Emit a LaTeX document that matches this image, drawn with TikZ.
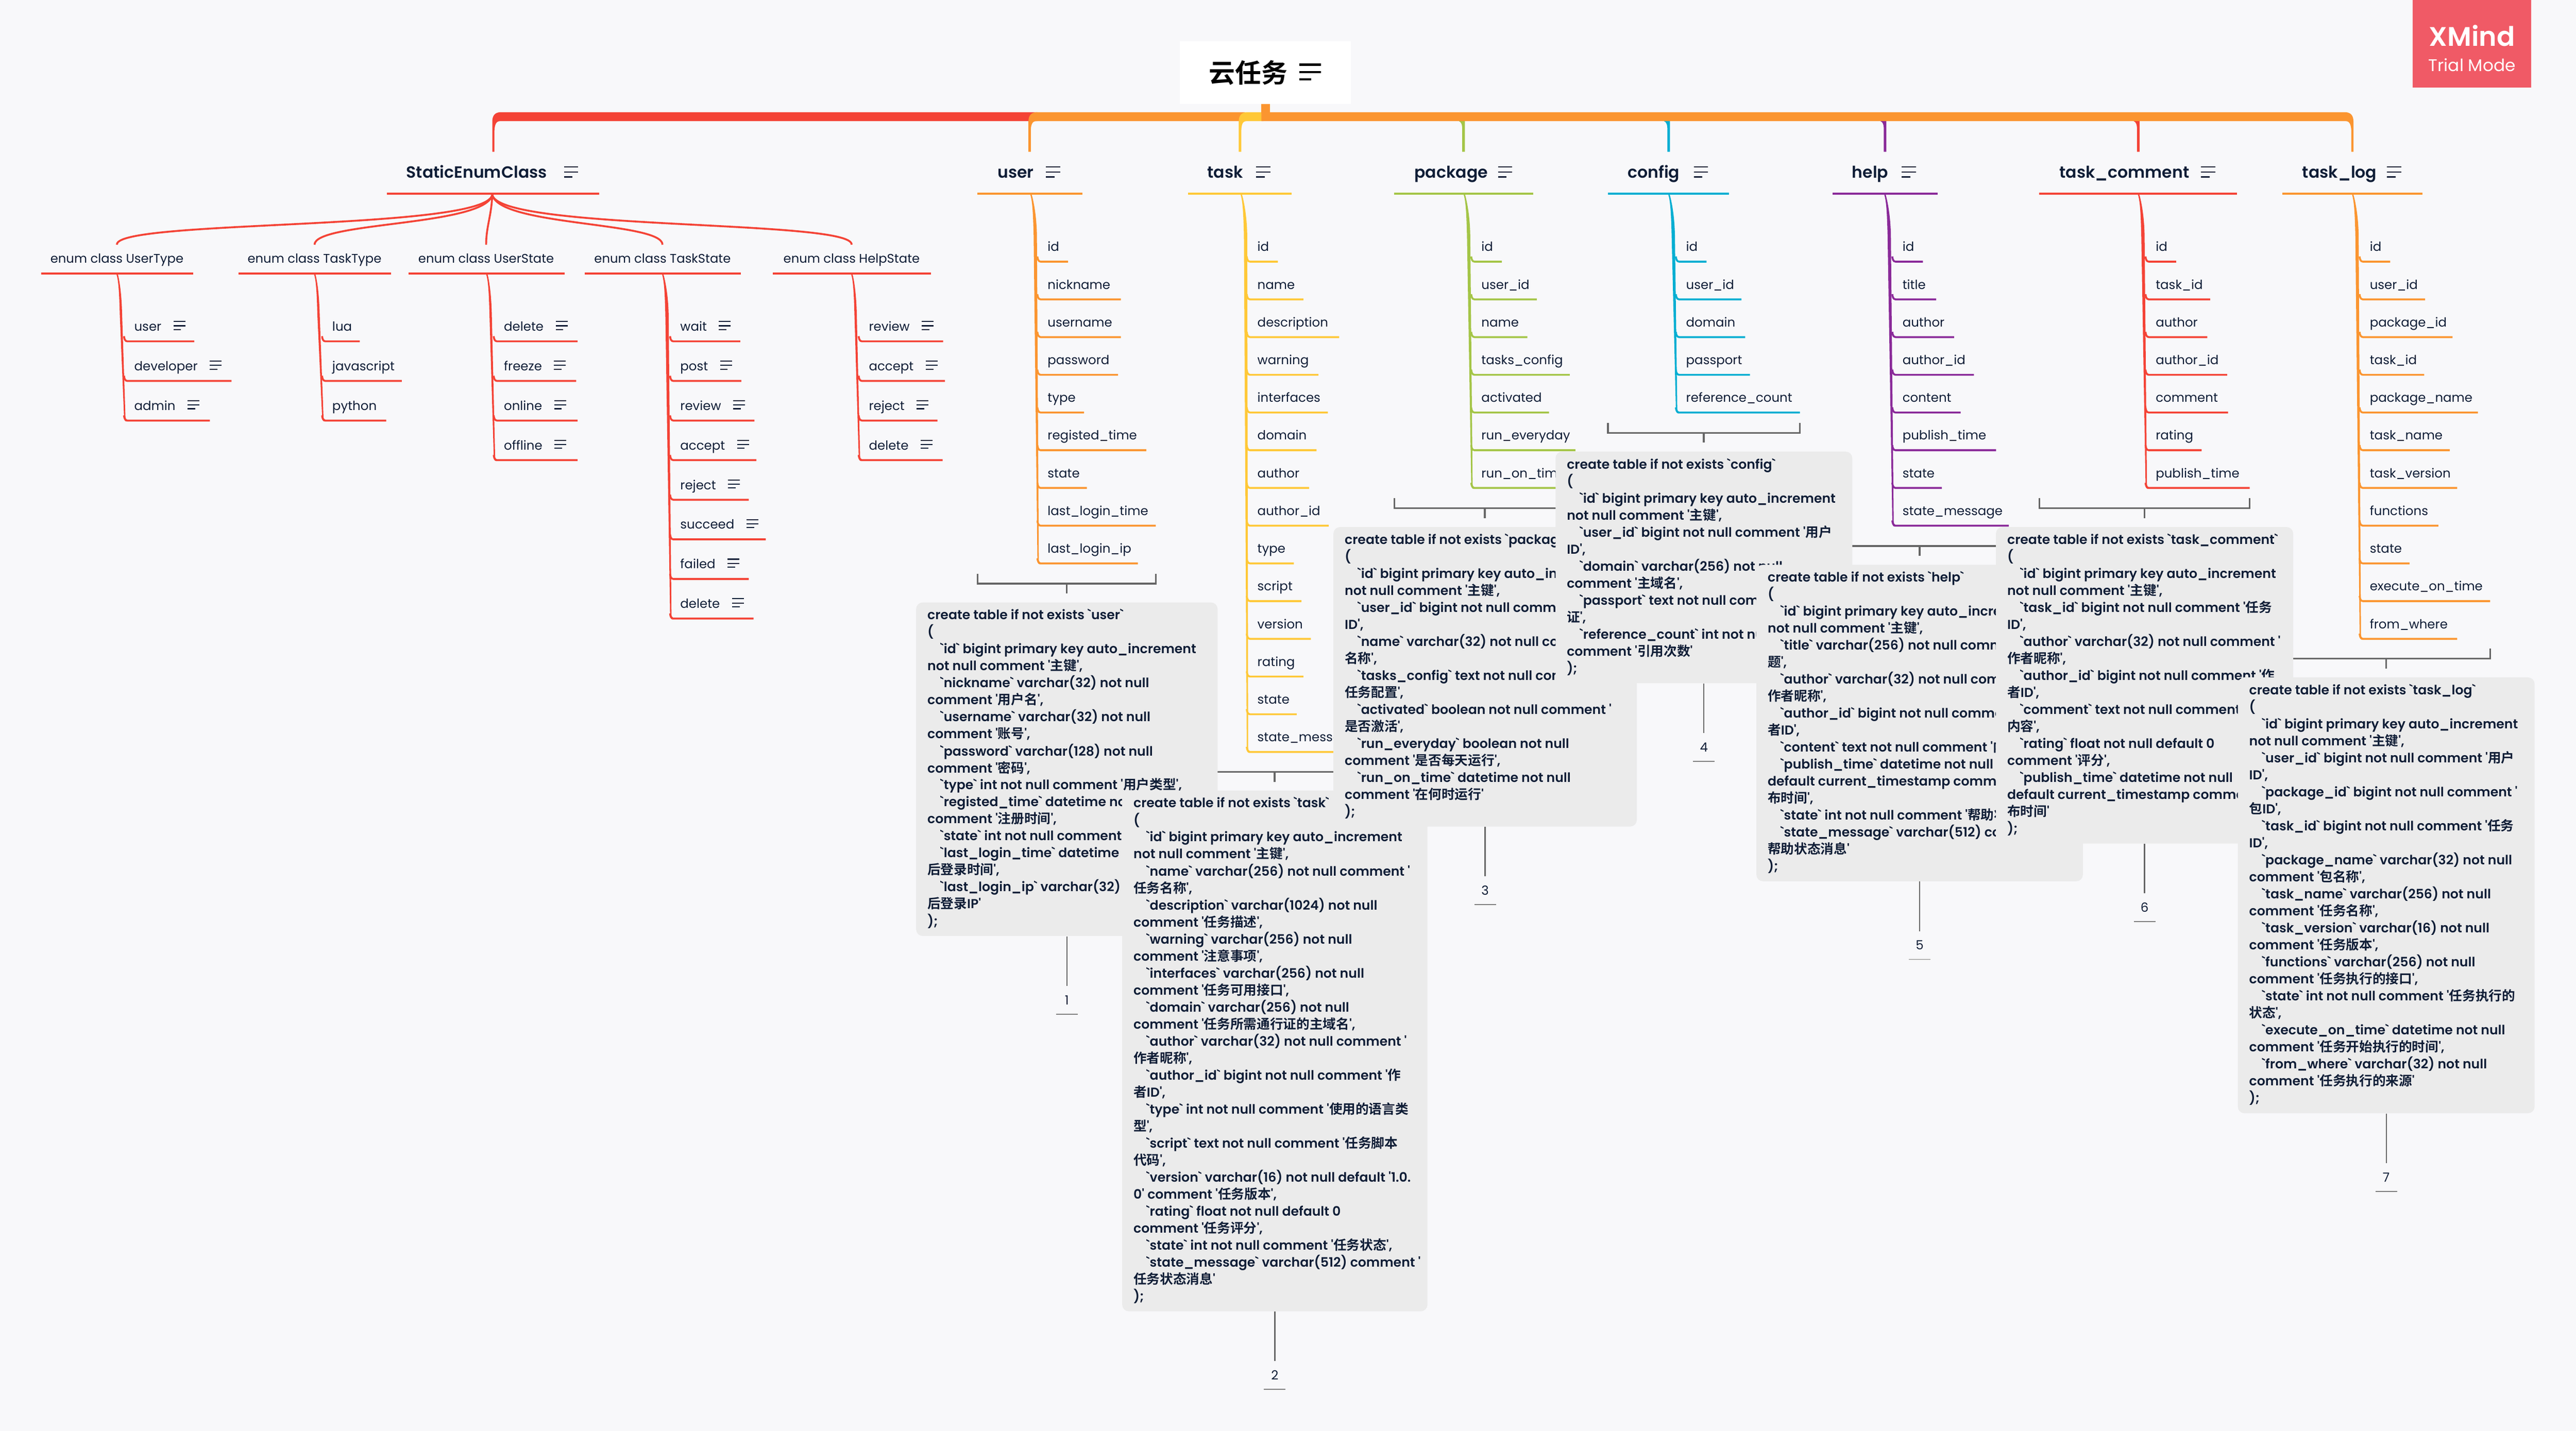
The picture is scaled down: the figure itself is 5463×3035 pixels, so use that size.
\documentclass[tikz,border=0pt]{standalone}
\usepackage{fontspec}
\setmainfont{Poppins}
\newfontfamily\leaff{Poppins}
\newfontfamily\headf{Poppins}[UprightFont=* SemiBold]
\newfontfamily\notef{Poppins}[UprightFont=* SemiBold]
\newfontfamily\xmf{Poppins}[UprightFont=* SemiBold]
\newfontfamily\zhf{Noto Sans CJK SC}[UprightFont=* Medium,BoldFont=* Bold]
\definecolor{bgc}{HTML}{F8F8FA}
\definecolor{ink}{HTML}{0F1D36}
\definecolor{notec}{HTML}{EBEBEB}
\definecolor{graye}{HTML}{666666}
\definecolor{cred}{HTML}{F44336}
\definecolor{corange}{HTML}{FB9530}
\definecolor{cyellow}{HTML}{FFC837}
\definecolor{cgreen}{HTML}{A4C547}
\definecolor{ccyan}{HTML}{03AED2}
\definecolor{cpurple}{HTML}{8A2A99}
\definecolor{xmc}{HTML}{F05A66}
\newcommand\Z[1]{{\zhf\bfseries\fontsize{7.97pt}{10.24pt}\selectfont #1}}
\newcommand\I{\hspace*{7.7pt}}
\tikzset{
  leaftext/.style={inner sep=0pt,text=ink,font=\leaff\fontsize{7.6pt}{10pt}\selectfont},
  headtext/.style={inner sep=0pt,text=ink,font=\headf\fontsize{9.8pt}{12pt}\selectfont},
  enumtext/.style={inner sep=0pt,text=ink,font=\leaff\fontsize{7.55pt}{10pt}\selectfont},
  notebox/.style={fill=notec,rounded corners=4pt,inner sep=0pt,text=ink,font=\notef\fontsize{7.82pt}{10.24pt}\selectfont},
  numtext/.style={inner sep=0pt,text=ink,font=\leaff\fontsize{7.6pt}{10pt}\selectfont},
  branch/.style={line width=1.14pt,line cap=butt},
  iconln/.style={line width=0.65pt,ink},
  headicon/.style={line width=0.85pt,ink},
  brack/.style={graye,line width=1.05pt},
  stem/.style={graye,line width=0.7pt},
  numline/.style={graye!85,line width=0.6pt},
}
\newcount\rowk
% name, colour, x0, underline left, text left, first underline y, step, top y
\newcommand\setcol[8]{\def\Nm{#1}\def\Cc{#2}\def\Xo{#3}\def\Ulx{#4}\def\Tx{#5}\def\Yo{#6}\def\Step{#7}\def\Yt{#8}\global\rowk=0 }
\newcommand\lf[2]{%
  \global\advance\rowk by 1
  \edef\yy{\the\numexpr\Yo+\Step*(\rowk-1)\relax}%
  \edef\kk{\the\rowk}%
  \node[leaftext,anchor=base west] (\Nm-\kk) at (\Tx,\yy-22) {#1};
  \coordinate (\Nm-\kk-a) at (\Ulx-3,\yy-11);
  \coordinate (\Nm-\kk-b) at (\Ulx+4,\yy);
  \coordinate (\Nm-\kk-c) at (#2,\yy);
  \draw[branch,\Cc] (\Nm-\kk-a) to[out=-85,in=180] (\Nm-\kk-b) -- (\Nm-\kk-c);
}
\newcommand\lfi[2]{%
  \lf{#1}{#2}
  \draw[iconln] (\Nm-\kk.base east) ++(25,-20) -- ++(25,0)
    (\Nm-\kk.base east) ++(25,-11) -- ++(25,0)
    (\Nm-\kk.base east) ++(25,-3) -- ++(16,0);
}
% #1 maximum trunk width
\newcommand\trunk[1]{%
  \fill[\Cc] (\Xo-1,\Yt) .. controls (\Xo+4,\Yt+15) and (\Xo+5,\Yt+50) .. (\Xo+6,\Yt+85)
    -- (\Ulx-3,\yy-9) .. controls (\Ulx-3,\yy-2) and (\Ulx-2,\yy+2) .. (\Ulx+3,\yy+2)
    -- (\Ulx+3,\yy-2) .. controls (\Ulx+1,\yy-3) and (\Ulx,\yy-5) .. (\Ulx,\yy-10)
    -- (\Xo+6+#1,\Yt+85) .. controls (\Xo+5+#1,\Yt+40) and (\Xo+5,\Yt+10) .. (\Xo+2,\Yt) -- cycle;
}
% name text left underline-left underline-right icon-left colour
\newcommand\mainhead[7]{%
  \node[headtext,anchor=base west] (#1) at (#3,377) {#2};
  \coordinate (#1-l) at (#4,411);
  \coordinate (#1-r) at (#5,411);
  \draw[branch,#7] (#1-l) -- (#1-r);
  \coordinate (#1-i) at (#6,377);
  \draw[headicon] (#1-i) ++(0,-23) -- ++(30,0) (#1-i) ++(0,-12) -- ++(30,0) (#1-i) ++(0,-2) -- ++(18,0);
}
% name text center-x underline-left underline-right
\newcommand\enumhead[5]{%
  \node[enumtext,anchor=base] (#1) at (#3,558) {#2};
  \coordinate (#1-l) at (#4,580);
  \coordinate (#1-r) at (#5,580);
  \draw[branch,cred] (#1-l) -- (#1-r);
}
% name xl xr cx top
\newcommand\brk[5]{%
  \coordinate (#1-bl) at (#2,#5-40);
  \coordinate (#1-br) at (#3,#5-40);
  \coordinate (#1-bc) at (#4,#5-40);
  \coordinate (#1-bs) at (#4,#5-19);
  \draw[brack] (#2,#5-61) -- (#1-bl) -- (#1-br) -- (#3,#5-61);
  \draw[brack] (#1-bc) -- (#1-bs);
}
% name xl xr ytop ybot body
\newcommand\notenode[6]{%
  \pgfmathsetmacro\tw{(#3-#2-48)*0.28453}%
  \node[notebox,minimum width={(#3-#2)*0.28453pt},minimum height={(#5-#4)*0.28453pt}]
    (#1) at ({(#2+#3)/2},{(#4+#5)/2}) {\makebox[\tw pt][l]{\raisebox{-0.8pt}{\begin{tabular}{@{}l@{}}#6\end{tabular}}}};
}
% note-name label
\newcommand\numnode[2]{%
  \path (#1.south) ++(0,135) coordinate (#1-numc);
  \node[numtext] (#1-num) at (#1-numc) {#2};
  \draw[stem] (#1.south) -- ++(0,105) coordinate (#1-end);
  \draw[numline] ([shift={(-23,30)}]#1-numc) coordinate (#1-ul) -- ++(46,0) coordinate (#1-ur);
}
\begin{document}
\begin{tikzpicture}[x=0.01cm,y=-0.01cm]
\fill[bgc] (0,0) rectangle (5463,3035);
\useasboundingbox (0,0) rectangle (5463,3035);

% ---------- main bar ----------
\fill[cred] (1044,322) -- (1044,258) .. controls (1044,245) and (1050,238) .. (1062,238) -- (2200,238) -- (2200,257) -- (1060,257) .. controls (1052,257) and (1049,265) .. (1048.5,278) -- (1048.5,322) -- cycle;
\fill[corange] (2181,322) -- (2181,258) .. controls (2181,245) and (2187,238) .. (2199,238) -- (2640,238) -- (2640,257) -- (2197,257) .. controls (2189,257) and (2186,265) .. (2186,278) -- (2186,322) -- cycle;
\fill[cyellow] (2627,322) -- (2627,258) .. controls (2627,245) and (2633,238) .. (2645,238) -- (2680,238) -- (2680,257) -- (2643,257) .. controls (2635,257) and (2632.5,265) .. (2632.5,278) -- (2632.5,322) -- cycle;
\foreach \xx/\cc in {3101/cgreen,3536/ccyan,3995/cpurple,4532/cred}{
  \fill[\cc] (\xx-7,257) .. controls (\xx-2,259) and (\xx,264) .. (\xx,275) -- (\xx,322) -- (\xx+5.5,322) -- (\xx+5.5,257) -- cycle;
}
\fill[corange] (4991,322) -- (4991,258) .. controls (4991,245) and (4985,238) .. (4973,238) -- (2675,238) -- (2675,257) -- (4975,257) .. controls (4983,257) and (4986,265) .. (4986.5,278) -- (4986.5,322) -- cycle;
\fill[corange] (2675,221) rectangle (2693,240);

% ---------- root ----------
\node[fill=white,minimum width={363*0.28453pt},minimum height={134*0.28453pt},inner sep=0pt,font=\zhf\bfseries\fontsize{15.8pt}{18pt}\selectfont,text=black] (root) at (2683.5,154) {云任务\kern20.5pt};
\coordinate (root-i) at (2755,154);
\draw[black,line width=1.4pt] (root-i) ++(0,-17) -- ++(46,0) (root-i) ++(0,-1) -- ++(46,0) (root-i) ++(0,14) -- ++(26,0);

% ---------- XMind badge ----------
\node[fill=xmc,minimum width={251*0.28453pt},minimum height={186*0.28453pt},inner sep=0pt,text=white,align=center] (xm) at (5242.5,93) {\rule{0pt}{18pt}{\xmf\fontsize{16.2pt}{18pt}\selectfont XMind}\\[3pt]{\leaff\fontsize{10.2pt}{12pt}\selectfont Trial Mode}};

% ---------- StaticEnumClass ----------
\mainhead{sec}{StaticEnumClass}{861}{820}{1271}{1196}{cred}
\enumhead{eu}{enum class UserType}{248}{87}{410}
\enumhead{et}{enum class TaskType}{667}{506}{829}
\enumhead{es}{enum class UserState}{1031}{866}{1198}
\enumhead{ek}{enum class TaskState}{1405}{1240}{1571}
\enumhead{eh}{enum class HelpState}{1806}{1639}{1974}
\coordinate (sec-b) at (1044,413);
\coordinate (eu-t) at (248,519);
\coordinate (et-t) at (667,519);
\coordinate (es-t) at (1031,519);
\coordinate (ek-t) at (1405,519);
\coordinate (eh-t) at (1806,519);
\draw[branch,cred] (sec-b) .. controls (1030,490) and (242,465) .. (eu-t);
\draw[branch,cred] (sec-b) .. controls (1030,480) and (667,470) .. (et-t);
\draw[branch,cred] (sec-b) .. controls (1042,460) and (1031,480) .. (es-t);
\draw[branch,cred] (sec-b) .. controls (1058,480) and (1405,470) .. (ek-t);
\draw[branch,cred] (sec-b) .. controls (1058,490) and (1812,465) .. (eh-t);

\setcol{usertype}{cred}{248}{266}{284}{724}{84}{582}
\lfi{user}{412}\lfi{developer}{491}\lfi{admin}{445}\trunk{5}
\setcol{tasktype}{cred}{667}{686}{704}{724}{84}{582}
\lf{lua}{763}\lf{javascript}{852}\lf{python}{819}\trunk{5}
\setcol{userstate}{cred}{1032}{1050}{1068}{724}{84}{582}
\lfi{delete}{1225}\lfi{freeze}{1222}\lfi{online}{1225}\lfi{offline}{1225}\trunk{5}
\setcol{taskstate}{cred}{1405}{1424}{1442}{724}{84}{582}
\lfi{wait}{1570}\lfi{post}{1572}\lfi{review}{1600}\lfi{accept}{1604}\lfi{reject}{1588}\lfi{succeed}{1624}\lfi{failed}{1588}\lfi{delete}{1598}\trunk{7}
\setcol{helpstate}{cred}{1806}{1824}{1842}{724}{84}{582}
\lfi{review}{2000}\lfi{accept}{2004}\lfi{reject}{1988}\lfi{delete}{1999}\trunk{5}

% ---------- tables ----------
\mainhead{user}{user}{2115}{2073}{2295}{2218}{corange}
\setcol{cuser}{corange}{2186}{2203}{2221}{555}{80}{413}
\lf{id}{2265}\lf{nickname}{2377}\lf{username}{2377}\lf{password}{2371}\lf{type}{2299}\lf{registed\_time}{2431}\lf{state}{2305}\lf{last\_login\_time}{2451}\lf{last\_login\_ip}{2413}\trunk{7}

\mainhead{task}{task}{2560}{2520}{2739}{2664}{cyellow}
\setcol{ctask}{cyellow}{2632}{2647}{2666}{555}{80}{413}
\lf{id}{2710}\lf{name}{2764}\lf{description}{2840}\lf{warning}{2796}\lf{interfaces}{2816}\lf{domain}{2792}\lf{author}{2776}\lf{author\_id}{2818}\lf{type}{2744}\lf{script}{2760}\lf{version}{2780}\lf{rating}{2764}\lf{state}{2750}\lf{state\_message}{2880}\trunk{7}

\mainhead{package}{package}{2999}{2957}{3252}{3177}{cgreen}
\setcol{cpack}{cgreen}{3105}{3123}{3141}{555}{80}{413}
\lf{id}{3185}\lf{user\_id}{3259}\lf{name}{3239}\lf{tasks\_config}{3329}\lf{activated}{3285}\lf{run\_everyday}{3341}\lf{run\_on\_time}{3345}\trunk{7}

\mainhead{config}{config}{3451}{3410}{3667}{3592}{ccyan}
\setcol{cconf}{ccyan}{3539}{3557}{3575}{555}{80}{413}
\lf{id}{3619}\lf{user\_id}{3693}\lf{domain}{3701}\lf{passport}{3711}\lf{reference\_count}{3817}\trunk{7}

\mainhead{help}{help}{3927}{3886}{4109}{4033}{cpurple}
\setcol{chelp}{cpurple}{3997}{4016}{4034}{555}{80}{413}
\lf{id}{4078}\lf{title}{4106}\lf{author}{4144}\lf{author\_id}{4186}\lf{content}{4158}\lf{publish\_time}{4233}\lf{state}{4118}\lf{state\_message}{4260}\trunk{7}

\mainhead{comment}{task\_comment}{4367}{4325}{4744}{4668}{cred}
\setcol{ccomm}{cred}{4535}{4553}{4571}{555}{80}{413}
\lf{id}{4615}\lf{task\_id}{4687}\lf{author}{4681}\lf{author\_id}{4723}\lf{comment}{4725}\lf{rating}{4669}\lf{publish\_time}{4771}\trunk{7}

\mainhead{log}{task\_log}{4882}{4840}{5137}{5062}{corange}
\setcol{clog}{corange}{4989}{5007}{5025}{555}{80}{413}
\lf{id}{5069}\lf{user\_id}{5143}\lf{package\_id}{5201}\lf{task\_id}{5141}\lf{package\_name}{5255}\lf{task\_name}{5195}\lf{task\_version}{5211}\lf{functions}{5171}\lf{state}{5110}\lf{execute\_on\_time}{5281}\lf{from\_where}{5211}\trunk{7}

% ---------- brackets ----------
\brk{b1}{2073}{2451}{2262}{1278}
\brk{b2}{2520}{2886}{2703}{1677}
\brk{b3}{2957}{3341}{3149}{1118}
\brk{b4}{3410}{3817}{3613}{958}
\brk{b5}{3886}{4256}{4071}{1198}
\brk{b6}{4325}{4771}{4548}{1118}
\brk{b7}{4840}{5281}{5060}{1437}

% ---------- notes ----------
\notenode{n1}{1943}{2582}{1278}{1985}{create table if not exists `user`\\
(\\
\I`id` bigint primary key auto\_increment\\
not null comment '\Z{主键}',\\
\I`nickname` varchar(32) not null\\
comment '\Z{用户名}',\\
\I`username` varchar(32) not null\\
comment '\Z{账号}',\\
\I`password` varchar(128) not null\\
comment '\Z{密码}',\\
\I`type` int not null comment '\Z{用户类型}',\\
\I`registed\_time` datetime not null\\
comment '\Z{注册时间}',\\
\I`state` int not null comment '\Z{状态}',\\
\I`last\_login\_time` datetime comment '\Z{最}\\
\Z{后登录时间}',\\
\I`last\_login\_ip` varchar(32) comment '\Z{最}\\
\Z{后登录}IP'\\
);}
\numnode{n1}{1}

\notenode{n2}{2380}{3027}{1677}{2781}{create table if not exists `task`\\
(\\
\I`id` bigint primary key auto\_increment\\
not null comment '\Z{主键}',\\
\I`name` varchar(256) not null comment '\\
\Z{任务名称}',\\
\I`description` varchar(1024) not null\\
comment '\Z{任务描述}',\\
\I`warning` varchar(256) not null\\
comment '\Z{注意事项}',\\
\I`interfaces` varchar(256) not null\\
comment '\Z{任务可用接口}',\\
\I`domain` varchar(256) not null\\
comment '\Z{任务所需通行证的主域名}',\\
\I`author` varchar(32) not null comment '\\
\Z{作者昵称}',\\
\I`author\_id` bigint not null comment '\Z{作}\\
\Z{者}ID',\\
\I`type` int not null comment '\Z{使用的语言类}\\
\Z{型}',\\
\I`script` text not null comment '\Z{任务脚本}\\
\Z{代码}',\\
\I`version` varchar(16) not null default '1.0.\\
0' comment '\Z{任务版本}',\\
\I`rating` float not null default 0\\
comment '\Z{任务评分}',\\
\I`state` int not null comment '\Z{任务状态}',\\
\I`state\_message` varchar(512) comment '\\
\Z{任务状态消息}'\\
);}
\numnode{n2}{2}

\notenode{n3}{2828}{3471}{1118}{1753}{create table if not exists `package`\\
(\\
\I`id` bigint primary key auto\_increment\\
not null comment '\Z{主键}',\\
\I`user\_id` bigint not null comment '\Z{用户}\\
ID',\\
\I`name` varchar(32) not null comment '\Z{包}\\
\Z{名称}',\\
\I`tasks\_config` text not null comment '\\
\Z{任务配置}',\\
\I`activated` boolean not null comment '\\
\Z{是否激活}',\\
\I`run\_everyday` boolean not null\\
comment '\Z{是否每天运行}',\\
\I`run\_on\_time` datetime not null\\
comment '\Z{在何时运行}'\\
);}
\numnode{n3}{3}

\notenode{n4}{3299}{3928}{958}{1449}{create table if not exists `config`\\
(\\
\I`id` bigint primary key auto\_increment\\
not null comment '\Z{主键}',\\
\I`user\_id` bigint not null comment '\Z{用户}\\
ID',\\
\I`domain` varchar(256) not null\\
comment '\Z{主域名}',\\
\I`passport` text not null comment '\Z{通行}\\
\Z{证}',\\
\I`reference\_count` int not null\\
comment '\Z{引用次数}'\\
);}
\numnode{n4}{4}

\notenode{n5}{3725}{4417}{1198}{1869}{create table if not exists `help`\\
(\\
\I`id` bigint primary key auto\_increment\\
not null comment '\Z{主键}',\\
\I`title` varchar(256) not null comment '\Z{标}\\
\Z{题}',\\
\I`author` varchar(32) not null comment '\\
\Z{作者昵称}',\\
\I`author\_id` bigint not null comment '\Z{作}\\
\Z{者}ID',\\
\I`content` text not null comment '\Z{内容}',\\
\I`publish\_time` datetime not null\\
default current\_timestamp comment '\Z{发}\\
\Z{布时间}',\\
\I`state` int not null comment '\Z{帮助状态}',\\
\I`state\_message` varchar(512) comment '\\
\Z{帮助状态消息}'\\
);}
\numnode{n5}{5}

\notenode{n6}{4233}{4863}{1118}{1789}{create table if not exists `task\_comment`\\
(\\
\I`id` bigint primary key auto\_increment\\
not null comment '\Z{主键}',\\
\I`task\_id` bigint not null comment '\Z{任务}\\
ID',\\
\I`author` varchar(32) not null comment '\\
\Z{作者昵称}',\\
\I`author\_id` bigint not null comment '\Z{作}\\
\Z{者}ID',\\
\I`comment` text not null comment '\Z{评论}\\
\Z{内容}',\\
\I`rating` float not null default 0\\
comment '\Z{评分}',\\
\I`publish\_time` datetime not null\\
default current\_timestamp comment '\Z{发}\\
\Z{布时间}'\\
);}
\numnode{n6}{6}

\notenode{n7}{4746}{5375}{1437}{2361}{create table if not exists `task\_log`\\
(\\
\I`id` bigint primary key auto\_increment\\
not null comment '\Z{主键}',\\
\I`user\_id` bigint not null comment '\Z{用户}\\
ID',\\
\I`package\_id` bigint not null comment '\\
\Z{包}ID',\\
\I`task\_id` bigint not null comment '\Z{任务}\\
ID',\\
\I`package\_name` varchar(32) not null\\
comment '\Z{包名称}',\\
\I`task\_name` varchar(256) not null\\
comment '\Z{任务名称}',\\
\I`task\_version` varchar(16) not null\\
comment '\Z{任务版本}',\\
\I`functions` varchar(256) not null\\
comment '\Z{任务执行的接口}',\\
\I`state` int not null comment '\Z{任务执行的}\\
\Z{状态}',\\
\I`execute\_on\_time` datetime not null\\
comment '\Z{任务开始执行的时间}',\\
\I`from\_where` varchar(32) not null\\
comment '\Z{任务执行的来源}'\\
);}
\numnode{n7}{7}
\end{tikzpicture}
\end{document}
